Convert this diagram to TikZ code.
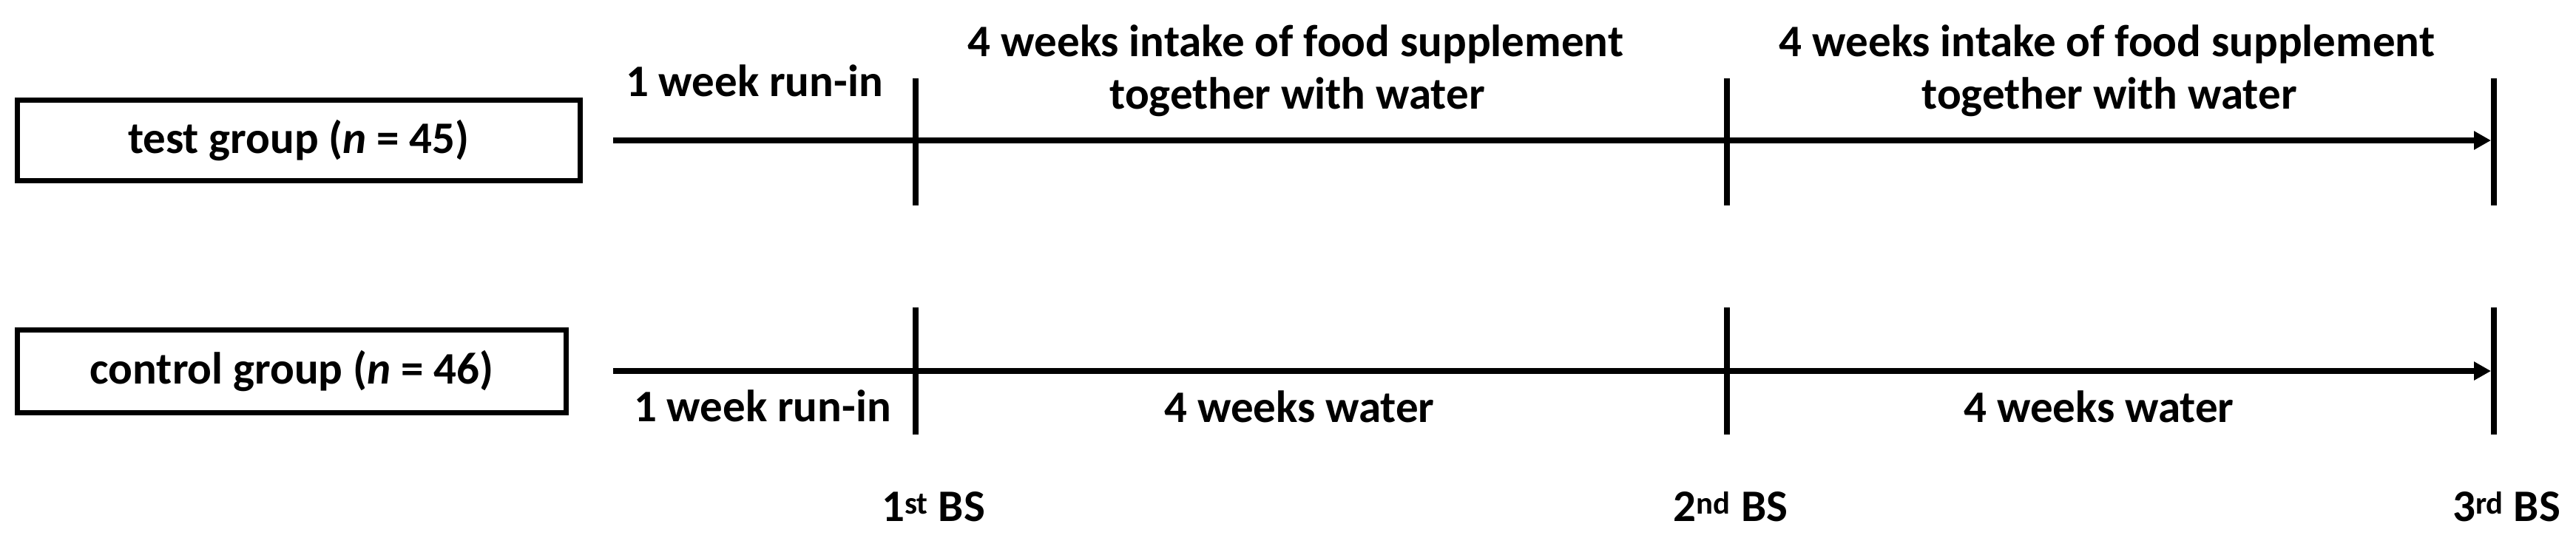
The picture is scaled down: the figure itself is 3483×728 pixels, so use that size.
\documentclass[tikz,border=0pt]{standalone}
\usepackage{fontspec}
\setmainfont{Carlito}
\usetikzlibrary{arrows.meta}
\begin{document}
\begin{tikzpicture}[x=1pt,y=-1pt,
  txt/.style={font=\fontsize{61}{72}\selectfont\bfseries, inner sep=0pt},
  lbl/.style={txt, anchor=base},
  grp/.style={txt, draw=black, line width=7pt, inner sep=0pt},
  axis/.style={line width=8pt, -{Triangle[length=23pt,width=24pt]}},
  tickline/.style={line width=8pt},
]
\useasboundingbox[fill=white] (0,0) rectangle (3483,728);

% group boxes
\node[grp, minimum width=761pt, minimum height=109pt] (test) at (404,190) {test group (\textit{n} = 45)};
\node[grp, minimum width=742pt, minimum height=112pt] (ctrl) at (394.5,502.5) {control group (\textit{n} = 46)};

% timeline coordinates
\coordinate (ts) at (829,190);
\coordinate (te) at (3368,190);
\coordinate (cs) at (829,502);
\coordinate (ce) at (3368,502);

\foreach \x/\n in {1238/a,2335/b,3372/c}{
  \coordinate (tt\n) at (\x,106);
  \coordinate (tb\n) at (\x,278);
  \coordinate (ct\n) at (\x,416);
  \coordinate (cb\n) at (\x,588);
}

% axes
\draw[axis] (ts) -- (te);
\draw[axis] (cs) -- (ce);

% ticks
\foreach \n in {a,b,c}{
  \draw[tickline] (tt\n) -- (tb\n);
  \draw[tickline] (ct\n) -- (cb\n);
}

% labels, test group
\node[lbl] (runA) at (1020,130) {1 week run-in};
\node[lbl] (supA1) at (1752,76) {4 weeks intake of food supplement};
\node[lbl] (supA2) at (1754,147) {together with water};
\node[lbl] (supB1) at (2849,76) {4 weeks intake of food supplement};
\node[lbl] (supB2) at (2852,147) {together with water};

% labels, control group
\node[lbl] (runC) at (1031,570) {1 week run-in};
\node[lbl] (watA) at (1757,571) {4 weeks water};
\node[lbl] (watB) at (2838,571) {4 weeks water};

% blood samplings
\node[lbl] (bs1) at (1262,705) {1\textsuperscript{st} BS};
\node[lbl] (bs2) at (2340,705) {2\textsuperscript{nd} BS};
\node[lbl] (bs3) at (3389,705) {3\textsuperscript{rd} BS};
\end{tikzpicture}
\end{document}
